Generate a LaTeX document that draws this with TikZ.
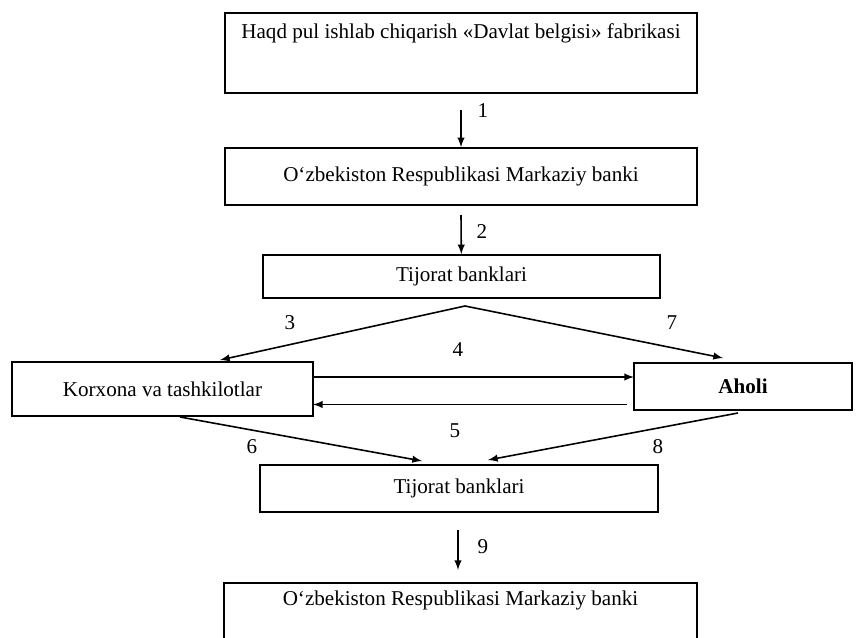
\documentclass[tikz,border=0pt]{standalone}
\usepackage{fontspec}
\setmainfont{Liberation Serif}
\usetikzlibrary{arrows}
\tikzstyle{box}=[rectangle,draw=black,line width=0.9pt,inner sep=2pt]
\tikzstyle{flow}=[->,>=latex,line width=0.9pt]
\tikzstyle{none}=[]

\begin{document}
\begin{tikzpicture}[font=\fontsize{12}{14}\selectfont]
            \useasboundingbox (0, 0) rectangle (17.14, -12.76);
            \node [style=box, minimum width=9.44cm, minimum height=1.6cm] (0) at (9.22, -1.06) {};
            \node [style=none] (1) at (9.22, -0.66) {Haqd pul ishlab chiqarish «Davlat belgisi» fabrikasi};
            \node [style=box, minimum width=9.44cm, minimum height=1.14cm] (2) at (9.22, -3.53) {O‘zbekiston Respublikasi Markaziy banki};
            \node [style=box, minimum width=7.94cm, minimum height=0.86cm] (3) at (9.23, -5.53) {Tijorat banklari};
            \node [style=box, minimum width=6.02cm, minimum height=1.08cm] (4) at (3.25, -7.78) {Korxona va tashkilotlar};
            \node [style=box, minimum width=4.36cm, minimum height=0.94cm] (5) at (14.86, -7.73) {\textbf{Aholi}};
            \node [style=box, minimum width=7.96cm, minimum height=0.94cm] (6) at (9.18, -9.77) {Tijorat banklari};
            \node [style=box, minimum width=9.46cm, minimum height=1.3cm] (7) at (9.21, -12.31) {};
            \node [style=none] (8) at (9.21, -12.0) {O‘zbekiston Respublikasi Markaziy banki};
            \node [style=none] (9) at (9.22, -2.2) {};
            \node [style=none] (10) at (9.22, -4.3) {};
            \node [style=none] (11) at (9.3, -6.12) {};
            \node [style=none] (12) at (4.4, -7.2) {};
            \node [style=none] (13) at (14.46, -7.16) {};
            \node [style=none] (14) at (6.26, -7.54) {};
            \node [style=none] (15) at (12.68, -7.54) {};
            \node [style=none] (16) at (12.54, -8.09) {};
            \node [style=none] (17) at (6.26, -8.09) {};
            \node [style=none] (18) at (3.6, -8.34) {};
            \node [style=none] (19) at (8.44, -9.22) {};
            \node [style=none] (20) at (14.76, -8.26) {};
            \node [style=none] (21) at (9.76, -9.2) {};
            \node [style=none] (22) at (9.16, -10.6) {};
            \node [style=none] (23) at (9.16, -11.4) {};
            \node [style=none] (24) at (9.66, -2.22) {1};
            \node [style=none] (25) at (9.64, -4.64) {2};
            \node [style=none] (26) at (5.8, -6.46) {3};
            \node [style=none] (27) at (9.16, -7.0) {4};
            \node [style=none] (28) at (9.1, -8.62) {5};
            \node [style=none] (29) at (5.04, -8.94) {6};
            \node [style=none] (30) at (13.44, -6.46) {7};
            \node [style=none] (31) at (13.16, -8.94) {8};
            \node [style=none] (32) at (9.66, -10.94) {9};
            \draw [style=flow] (9.center) to (2);
            \draw [style=flow] (10.center) to (3);
            \draw [style=flow] (11.center) to (12.center);
            \draw [style=flow] (11.center) to (13.center);
            \draw [style=flow] (14.center) to (15.center);
            \draw [style=flow] (16.center) to (17.center);
            \draw [style=flow] (18.center) to (19.center);
            \draw [style=flow] (20.center) to (21.center);
            \draw [style=flow] (22.center) to (23.center);
\end{tikzpicture}
\end{document}
